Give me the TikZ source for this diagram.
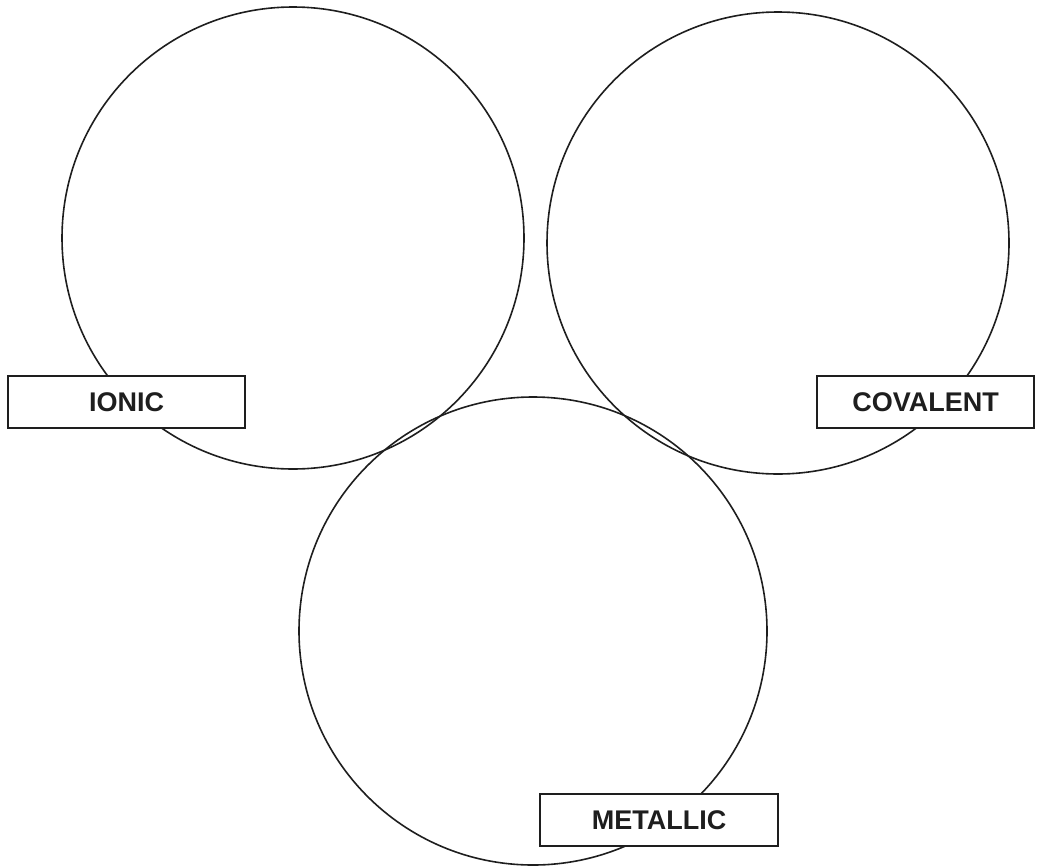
\documentclass[tikz,border=0pt]{standalone}
\usepackage{fontspec}
\setmainfont{Liberation Sans}
\definecolor{ink}{HTML}{1E1E1E}
\begin{document}
\begin{tikzpicture}[x=1pt,y=-1pt,
  ring/.style={circle, draw=ink, line width=1.6pt, inner sep=0pt, minimum size=462pt},
  tag/.style={rectangle, draw=ink, fill=white, line width=1.4pt, inner sep=0pt,
    minimum width=237pt, minimum height=52pt, text=ink,
    font=\fontsize{27}{30}\selectfont\bfseries}]
  \useasboundingbox (0,0) rectangle (1038,865);
  % the three bonding circles
  \node[ring] (ionicC) at (293,238) {};
  \node[ring] (covalentC) at (778,243) {};
  \node[ring, minimum size=468pt] (metallicC) at (533,631) {};
  % labels laid over the circles
  \node[tag] (ionic) at (126.5,402) {IONIC};
  \node[tag, minimum width=217pt] (covalent) at (925.5,402) {COVALENT};
  \node[tag, minimum width=238pt] (metallic) at (659,820) {METALLIC};
\end{tikzpicture}
\end{document}
